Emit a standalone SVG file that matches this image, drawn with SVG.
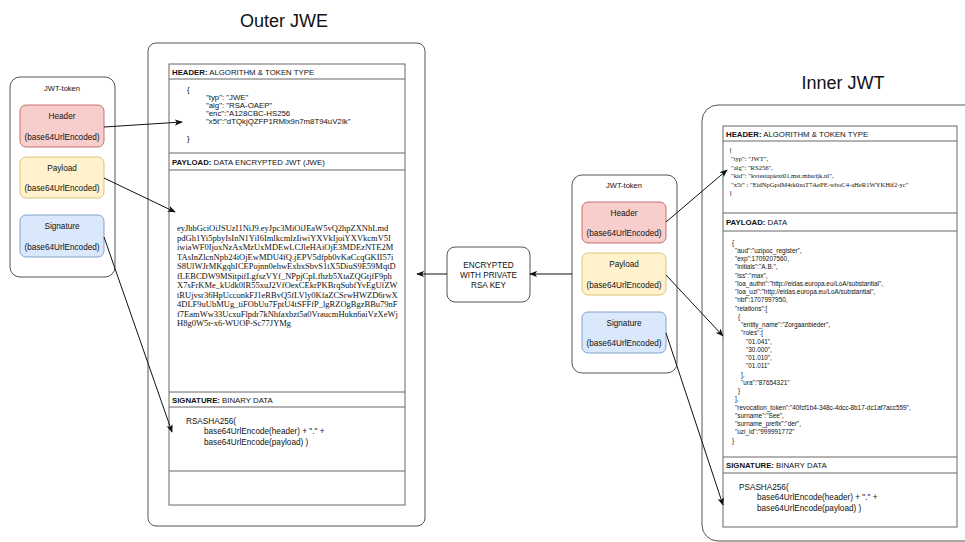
<svg xmlns="http://www.w3.org/2000/svg" width="965" height="542" viewBox="0 0 965 542">
  <defs>
    <marker id="arrow" viewBox="0 0 10 8" refX="9" refY="4" markerWidth="8" markerHeight="7" orient="auto" markerUnits="userSpaceOnUse">
      <path d="M0,0 L10,4 L0,8 L2.5,4 z" fill="#111"/>
    </marker>
    <style>
      .sans { font-family: "Liberation Sans", Arial, Helvetica, sans-serif; fill: #111; }
      .serif { font-family: "Liberation Serif", "Times New Roman", serif; fill: #111; }
      .title { font-size: 18px; text-anchor: middle; }
      .container { fill: #fff; stroke: #555; stroke-width: 1; }
      .table { fill: none; stroke: #666; stroke-width: 1; }
      .row { stroke: #666; stroke-width: 1; }
      .tokenLabel { font-size: 7.5px; text-anchor: middle; }
      .partLabel { font-size: 8.2px; text-anchor: middle; }
      .hdr { fill: #f8cecc; stroke: #b85450; stroke-width: 0.8; }
      .pay { fill: #fff2cc; stroke: #d6b656; stroke-width: 0.8; }
      .sig { fill: #dae8fc; stroke: #6c8ebf; stroke-width: 0.8; }
      .rowTitle { font-size: 7.8px; }
      .code { font-size: 8.2px; }
      .hcode { font-size: 7.8px; }
      .jwe { font-size: 8.5px; }
      .claims { font-size: 6.4px; }
      .jhdr { font-size: 6.6px; }
      .edge { fill: none; stroke: #111; stroke-width: 1; marker-end: url(#arrow); }
    </style>
  </defs>

  <!-- Section titles -->
  <text class="sans title" x="284" y="27">Outer JWE</text>
  <text class="sans title" x="843" y="89">Inner JWT</text>

  <!-- Left JWT token (encrypted form) -->
  <g id="jwt-token-outer">
    <rect class="container" x="10" y="77" width="105" height="200" rx="10"/>
    <text class="sans tokenLabel" x="62" y="91">JWT-token</text>
    <rect class="hdr" x="20" y="105" width="84" height="42" rx="6"/>
    <text class="sans partLabel" x="62" y="119">Header</text>
    <text class="sans partLabel" x="62" y="140">(base64UrlEncoded)</text>
    <rect class="pay" x="20" y="157" width="84" height="41" rx="6"/>
    <text class="sans partLabel" x="62" y="171">Payload</text>
    <text class="sans partLabel" x="62" y="191">(base64UrlEncoded)</text>
    <rect class="sig" x="20" y="215" width="84" height="42" rx="6"/>
    <text class="sans partLabel" x="62" y="229">Signature</text>
    <text class="sans partLabel" x="62" y="250">(base64UrlEncoded)</text>
  </g>

  <!-- Outer JWE structure -->
  <g id="outer-jwe">
    <rect class="container" x="148" y="43" width="277" height="483" rx="8"/>
    <rect class="table" x="169" y="64" width="236" height="441"/>
    <line class="row" x1="169" y1="79" x2="405" y2="79"/>
    <line class="row" x1="169" y1="153" x2="405" y2="153"/>
    <line class="row" x1="169" y1="170" x2="405" y2="170"/>
    <line class="row" x1="169" y1="392" x2="405" y2="392"/>
    <line class="row" x1="169" y1="407" x2="405" y2="407"/>
    <line class="row" x1="169" y1="471" x2="405" y2="471"/>

    <text class="sans rowTitle" x="172" y="74.5"><tspan font-weight="bold">HEADER:</tspan> ALGORITHM &amp; TOKEN TYPE</text>
    <g class="sans hcode">
      <text x="187" y="92">{</text>
      <text x="206" y="100">"typ": "JWE"</text>
      <text x="206" y="108">"alg": "RSA-OAEP"</text>
      <text x="206" y="116">"enc":"A128CBC-HS256</text>
      <text x="206" y="124">"x5t":"dTQkjQZFP1RMlx9n7m8T94uV2Ik"</text>
      <text x="187" y="141">}</text>
    </g>

    <text class="sans rowTitle" x="172" y="164.5"><tspan font-weight="bold">PAYLOAD:</tspan> DATA ENCRYPTED JWT (JWE)</text>
    <g class="serif jwe">
      <text x="177" y="231">eyJhbGciOiJSUzI1NiJ9.eyJpc3MiOiJEaW5vQ2hpZXNhLmd</text>
      <text x="177" y="240.5">pdGh1Yi5pbyIsInN1YiI6ImlkcmlzIiwiYXVkIjoiYXVkcmV5I</text>
      <text x="177" y="250">iwiaWF0IjoxNzAxMzUxMDEwLCJleHAiOjE3MDEzNTE2M</text>
      <text x="177" y="259.5">TAsInZlcnNpb24iOjEwMDU4fQ.jEPV5dfpb0vKaCcqGKII57i</text>
      <text x="177" y="269">S8UlWJrMKgqhICEPojnn0ehwExbxSbvS1tX5DiuS9E59MqtD</text>
      <text x="177" y="278.5">fLEBCDW9MSitpifLgfszVYf_NPpjCpLfhzb5XtaZQGtjfF9ph</text>
      <text x="177" y="288">X7sFrKMe_kUdk0lR55xuJ2VfOexCEkrPKBrqSubfYvEgUfZW</text>
      <text x="177" y="297.5">tRUjvsr36HpUcconkFJ1eRBvQ5fLVly0KfaZCSrwHWZD6rwX</text>
      <text x="177" y="307">4DLF9uUbMUg_tiFObUu7FptU4tSFFfP_lgRZOgBgzBBu79nF</text>
      <text x="177" y="316.5">f7EamWw33UcxuFlpdr7kNhfaxbzt5a0VraucmHukn6aiVzXeWj</text>
      <text x="177" y="326">H8g0W5r-x6-WUOP-Sc77JYMg</text>
    </g>

    <text class="sans rowTitle" x="172" y="402.5"><tspan font-weight="bold">SIGNATURE:</tspan> BINARY DATA</text>
    <text class="sans code" x="186" y="423.5">RSASHA256(</text>
    <text class="sans code" x="204" y="434">base64UrlEncode(header) + "." +</text>
    <text class="sans code" x="204" y="444.5">base64UrlEncode(payload) )</text>
  </g>

  <!-- Encryption step -->
  <g id="encrypt-step">
    <rect class="container" x="447" y="247" width="83" height="55" rx="8"/>
    <text class="sans partLabel" x="488.5" y="267.5">ENCRYPTED</text>
    <text class="sans partLabel" x="488.5" y="277.5">WITH PRIVATE</text>
    <text class="sans partLabel" x="488.5" y="287.5">RSA KEY</text>
  </g>

  <!-- Middle JWT token (signed form) -->
  <g id="jwt-token-inner">
    <rect class="container" x="572" y="175" width="105" height="198" rx="10"/>
    <text class="sans tokenLabel" x="624" y="188">JWT-token</text>
    <rect class="hdr" x="582" y="202" width="84" height="41" rx="6"/>
    <text class="sans partLabel" x="624" y="216">Header</text>
    <text class="sans partLabel" x="624" y="236">(base64UrlEncoded)</text>
    <rect class="pay" x="582" y="253" width="84" height="42" rx="6"/>
    <text class="sans partLabel" x="624" y="267">Payload</text>
    <text class="sans partLabel" x="624" y="288">(base64UrlEncoded)</text>
    <rect class="sig" x="582" y="312" width="84" height="41" rx="6"/>
    <text class="sans partLabel" x="624" y="326">Signature</text>
    <text class="sans partLabel" x="624" y="346">(base64UrlEncoded)</text>
  </g>

  <!-- Inner JWT structure -->
  <g id="inner-jwt">
    <rect class="container" x="702" y="105" width="300" height="436" rx="16"/>
    <rect class="table" x="723" y="126" width="234" height="401"/>
    <line class="row" x1="723" y1="141" x2="957" y2="141"/>
    <line class="row" x1="723" y1="213" x2="957" y2="213"/>
    <line class="row" x1="723" y1="231" x2="957" y2="231"/>
    <line class="row" x1="723" y1="457" x2="957" y2="457"/>
    <line class="row" x1="723" y1="473" x2="957" y2="473"/>

    <text class="sans rowTitle" x="726" y="136.5"><tspan font-weight="bold">HEADER:</tspan> ALGORITHM &amp; TOKEN TYPE</text>
    <g class="serif jhdr">
      <text x="729" y="152">{</text>
      <text x="731" y="161">"typ": "JWT",</text>
      <text x="731" y="169.5">"alg": "RS256",</text>
      <text x="731" y="178">"kid": "kvtestapiext01.mst.mhsrijk.nl",</text>
      <text x="731" y="186.5">"x5t" : "EidNpGpdM4rk0zaT7AePE-wboC4-aHeR1WYKHif2-yc"</text>
      <text x="729" y="195">}</text>
    </g>

    <text class="sans rowTitle" x="726" y="225"><tspan font-weight="bold">PAYLOAD:</tspan> DATA</text>
    <g class="sans claims">
      <text x="732" y="244.5">{</text>
      <text x="735" y="252.75">"aud":"uzipoc_register",</text>
      <text x="735" y="261">"exp":1709207560,</text>
      <text x="735" y="269.25">"initials":"A.B.",</text>
      <text x="735" y="277.5">"iss":"max",</text>
      <text x="735" y="285.75">"loa_authn":"http://eidas.europa.eu/LoA/substantial",</text>
      <text x="735" y="294">"loa_uzi":"http://eidas.europa.eu/LoA/substantial",</text>
      <text x="735" y="302.25">"nbf":1707997950,</text>
      <text x="735" y="310.5">"relations":[</text>
      <text x="738" y="318.75">{</text>
      <text x="741" y="327">"entity_name":"Zorgaanbieder",</text>
      <text x="741" y="335.25">"roles":[</text>
      <text x="746" y="343.5">"01.041",</text>
      <text x="746" y="351.75">"30.000",</text>
      <text x="746" y="360">"01.010",</text>
      <text x="746" y="368.25">"01.011"</text>
      <text x="741" y="376.5">],</text>
      <text x="741" y="384.75">"ura":"87654321"</text>
      <text x="738" y="393">}</text>
      <text x="735" y="401.25">],</text>
      <text x="735" y="409.5">"revocation_token":"40fcf1b4-348c-4dcc-8b17-dc1af7acc559",</text>
      <text x="735" y="417.75">"surname":"See",</text>
      <text x="735" y="426">"surname_prefix":"der",</text>
      <text x="735" y="434.25">"uzi_id":"999991772"</text>
      <text x="732" y="442.5">}</text>
    </g>

    <text class="sans rowTitle" x="726" y="468"><tspan font-weight="bold">SIGNATURE:</tspan> BINARY DATA</text>
    <text class="sans code" x="739" y="489.5">PSASHA256(</text>
    <text class="sans code" x="757" y="500">base64UrlEncode(header) + "." +</text>
    <text class="sans code" x="757" y="510.5">base64UrlEncode(payload) )</text>
  </g>

  <!-- Connectors -->
  <g id="connectors">
    <path class="edge" d="M104,127 L182,122"/>
    <path class="edge" d="M104,178 L175,212"/>
    <path class="edge" d="M104,237 L172,432"/>
    <path class="edge" d="M447,274 L417,274"/>
    <path class="edge" d="M572,274 L530,274"/>
    <path class="edge" d="M666,222 L727,170"/>
    <path class="edge" d="M666,275 L723,336"/>
    <path class="edge" d="M666,333 L723,505"/>
  </g>
</svg>
